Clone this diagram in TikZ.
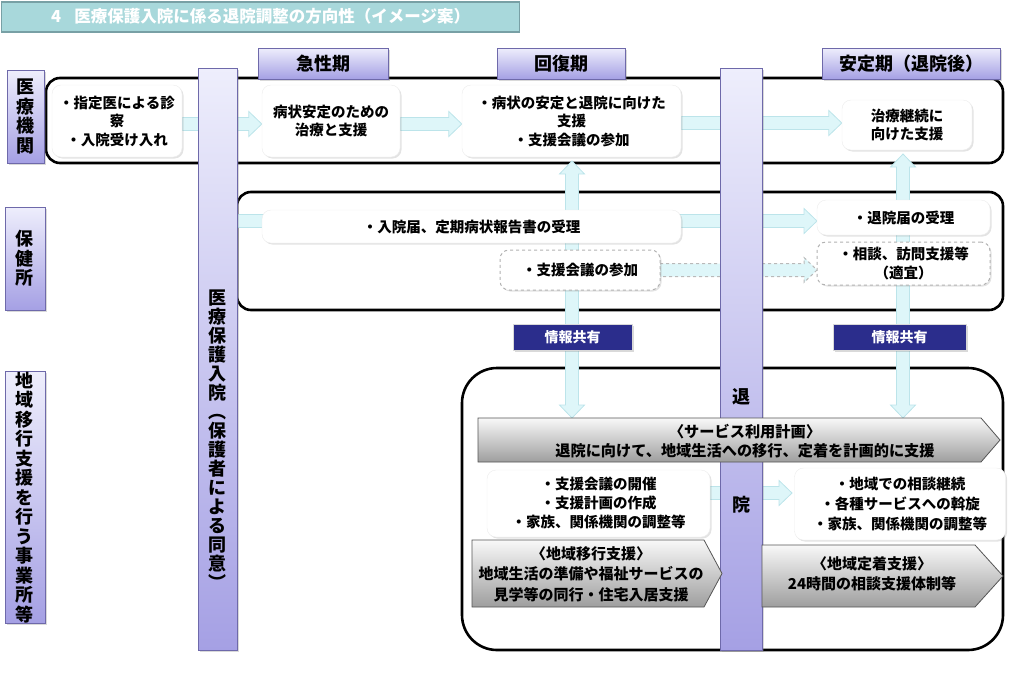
\documentclass[tikz,border=0pt]{standalone}
\usepackage{fontspec}
\setmainfont{Noto Sans CJK JP}
\usetikzlibrary{calc,shadows}
\definecolor{lavtop}{RGB}{238,238,252}
\definecolor{lavbot}{RGB}{165,160,228}
\definecolor{lavline}{RGB}{110,105,170}
\definecolor{cyanfill}{RGB}{222,246,249}
\definecolor{cyanline}{RGB}{188,228,234}
\definecolor{navy}{RGB}{43,45,140}
\definecolor{titlefill}{RGB}{168,216,219}
\definecolor{titleline}{RGB}{120,160,165}
\definecolor{graytop}{RGB}{248,248,248}
\definecolor{graybot}{RGB}{158,158,158}
\definecolor{grayline}{RGB}{85,85,85}
\tikzset{
 lav/.style={draw=lavline, line width=1pt, top color=lavtop, bottom color=lavbot, inner sep=0pt,
   drop shadow={shadow xshift=1.5pt, shadow yshift=-1.5pt, opacity=0.3},
   font=\fontsize{18}{19.5}\selectfont\bfseries, align=center},
 lavtext/.style={inner sep=0pt, align=center, font=\fontsize{18}{19}\selectfont\bfseries},
 band/.style={draw=black, line width=2.6pt, rounded corners=14pt},
 wbox/.style={fill=white, draw=gray!15, rounded corners=9pt,
   drop shadow={shadow xshift=1.5pt, shadow yshift=-1.5pt, opacity=0.22},
   inner sep=0pt, align=center, font=\fontsize{14.5}{18.5}\selectfont\bfseries},
 dbox/.style={wbox, draw=gray!60, dashed, line width=1pt},
 info/.style={fill=navy, draw=gray!30, line width=1pt, text=white, inner sep=0pt,
   drop shadow={shadow xshift=1.5pt, shadow yshift=-1.5pt, opacity=0.3},
   font=\fontsize{14}{16}\selectfont\bfseries},
 blk/.style={fill=cyanfill, draw=cyanline, line width=0.8pt},
 dblk/.style={fill=cyanfill, draw=gray!55, dashed, line width=1pt},
 grayarr/.style={top color=graytop, bottom color=graybot, draw=grayline, line width=0.8pt},
 gtext/.style={align=center, inner sep=0pt, font=\fontsize{15}{20.5}\selectfont\bfseries},
}
\newcommand\hblk[3][blk]{\path[#1] ($(#2)+(0,-6.5)$) -- ($(#3)+(-13,-6.5)$) -- ++(0,-6) -- (#3) -- ($(#3)+(-13,12.5)$) -- ++(0,-6) -- ($(#2)+(0,6.5)$) -- cycle;}
\newcommand\vdbl[2]{\path[blk] (#1) -- ++(12.5,13) -- ++(-6,0) -- ($(#2)+(6.5,-13)$) -- ++(6,0) -- (#2) -- ++(-12.5,-13) -- ++(6,0) -- ($(#1)+(-6.5,13)$) -- ++(-6,0) -- cycle;}
\begin{document}
\begin{tikzpicture}[x=1pt,y=-1pt]
\useasboundingbox (0,0) rectangle (1024,691);
% title
\node[fill=titlefill, draw=titleline, line width=1.5pt, minimum width=518pt, minimum height=30pt, inner sep=0pt, anchor=north west] (title) at (0.75,1) {};
\node[anchor=west, inner sep=0pt, text=white, font=\fontsize{16.5}{18}\selectfont\bfseries] (titletext) at (51,16) {4\hspace{0.8em}医療保護入院に係る退院調整の方向性（イメージ案）};
% bands
\draw[band] (46,78) rectangle (1003,163);
\draw[band] (237,192) rectangle (1003,310);
\draw[band, rounded corners=35pt] (462,368) rectangle (1003,650);
% coordinates for arrow ends
\coordinate (h2l) at (237,221);
\coordinate (v1b) at (572,418);
\coordinate (v2b) at (903,418);
\coordinate (v1t) at (572,161);
\coordinate (v2t) at (903,154);
% vertical double arrows
\vdbl{v1t}{v1b}
\vdbl{v2t}{v2b}
% row 1 box placeholders (for arrow ends)
\path (117,121) node[minimum width=130pt, minimum height=72pt, inner sep=0pt] (b1p) {}
      (331,121) node[minimum width=138pt, minimum height=72pt, inner sep=0pt] (b2p) {}
      (571.5,121) node[minimum width=219pt, minimum height=72pt, inner sep=0pt] (b3p) {}
      (907,125) node[minimum width=130pt, minimum height=50pt, inner sep=0pt] (b4p) {};
\coordinate (a1s) at ($(b1p.east)+(0,3)$);
\coordinate (a1e) at ($(b2p.west)+(0,3)$);
\coordinate (a2s) at ($(b2p.east)+(0,3)$);
\coordinate (a2e) at ($(b3p.west)+(0,3)$);
\coordinate (a3s) at ($(b3p.east)+(0,2)$);
\coordinate (a3e) at (b4p.west |- a3s);
\hblk{a1s}{a1e}
\hblk{a2s}{a2e}
\hblk{a3s}{a3e}
% 保健所 arrows
\coordinate (h3w) at (817,221);
\hblk{h2l}{h3w}
\coordinate (d1s) at (660,270);
\coordinate (d1e) at (817,270);
\hblk[dblk]{d1s}{d1e}
% row 3 arrow
\coordinate (c1s) at (710,493);
\coordinate (c1e) at (792,493);
\hblk{c1s}{c1e}
% lavender bars
\node[lav, minimum width=39pt, minimum height=582pt] (bar1) at (217.5,359) {};
\node[lavtext] (bar1t) at (217.5,440) {医\\療\\保\\護\\入\\院\\︵\\保\\護\\者\\に\\よ\\る\\同\\意\\︶};
\node[lav, minimum width=42pt, minimum height=582pt] (bar2) at (741,359) {};
\node[lavtext] (taiA) at (741,397) {退};
\node[lavtext] (taiB) at (741,505) {院};
% left labels
\node[lav, minimum width=37pt, minimum height=93pt] (lab1) at (25.5,116.5) {医\\療\\機\\関};
\node[lav, minimum width=40pt, minimum height=103pt] (lab2) at (25,258.5) {保\\健\\所};
\node[lav, minimum width=40pt, minimum height=245pt] (lab3) at (25,497.5) {地\\域\\移\\行\\支\\援\\を\\行\\う\\事\\業\\所\\等};
% headers
\node[lav, minimum width=130pt, minimum height=31pt] (hd1) at (323,63.5) {急性期};
\node[lav, minimum width=128pt, minimum height=31pt] (hd2) at (561,63.5) {回復期};
\node[lav, minimum width=178pt, minimum height=31pt] (hd3) at (911,63.5) {安定期（退院後）};
% row 1 boxes
\node[wbox, minimum width=130pt, minimum height=72pt] (b1) at (b1p) {・指定医による診\\察\\・入院受け入れ};
\node[wbox, minimum width=138pt, minimum height=72pt] (b2) at (b2p) {病状安定のための\\治療と支援};
\node[wbox, minimum width=219pt, minimum height=72pt] (b3) at (b3p) {・病状の安定と退院に向けた\\支援\\・支援会議の参加};
\node[wbox, minimum width=130pt, minimum height=50pt] (b4) at (b4p) {治療継続に\\向けた支援};
% 保健所 boxes
\node[wbox, minimum width=419pt, minimum height=33pt] (h1) at (471.5,226.5) {・入院届、定期病状報告書の受理};
\node[dbox, minimum width=160pt, minimum height=40pt] (h2) at (580,270) {・支援会議の参加};
\node[wbox, minimum width=173pt, minimum height=35pt] (h3) at (903.5,217.5) {・退院届の受理};
\node[dbox, minimum width=173pt, minimum height=43pt] (h4) at (903.5,263.5) {・相談、訪問支援等\\（適宜）};
% info
\node[info, minimum width=119pt, minimum height=26pt] (i1) at (572.5,337) {情報共有};
\node[info, minimum width=133pt, minimum height=26pt] (i2) at (899.5,337) {情報共有};
% region 3
\path[grayarr] (478,418) -- (981,418) -- (1000,440) -- (981,462) -- (478,462) -- cycle;
\node[gtext, font=\fontsize{15.2}{19.5}\selectfont\bfseries] (plan) at (745,441) {〈サービス利用計画〉\\退院に向けて、地域生活への移行、定着を計画的に支援};
\node[wbox, minimum width=223pt, minimum height=67pt, font=\fontsize{14.5}{19}\selectfont\bfseries] (c1) at (598.5,503.5) {・支援会議の開催\\・支援計画の作成\\・家族、関係機関の調整等};
\node[wbox, minimum width=211pt, minimum height=72pt, font=\fontsize{14.5}{20}\selectfont\bfseries] (c2) at (900,504) {・地域での相談継続\\・各種サービスへの斡旋\\・家族、関係機関の調整等};
\path[grayarr] (472,540) -- (704,540) -- (722,573.5) -- (704,607) -- (472,607) -- cycle;
\node[gtext] (g1) at (591,574) {〈地域移行支援〉\\地域生活の準備や福祉サービスの\\見学等の同行・住宅入居支援};
\path[grayarr] (762,545) -- (975,545) -- (1003,576) -- (975,607) -- (762,607) -- cycle;
\node[gtext] (g2) at (872,574) {〈地域定着支援〉\\24時間の相談支援体制等};
\end{tikzpicture}
\end{document}
